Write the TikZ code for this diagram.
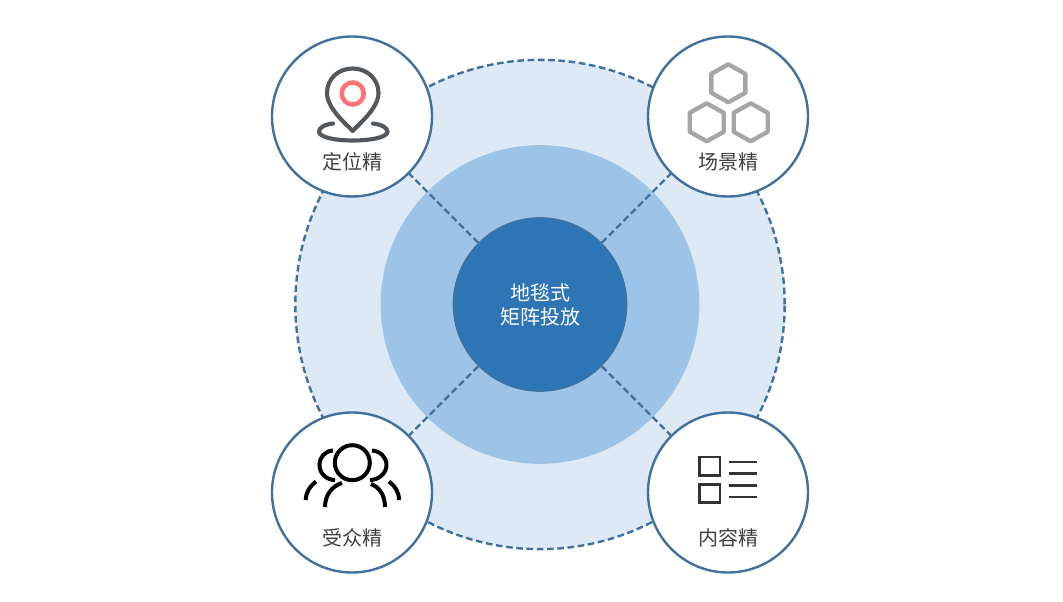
\documentclass[tikz,border=0pt]{standalone}
\usepackage{fontspec}
\newfontfamily\cjk{Noto Sans CJK SC}
\definecolor{ringblue}{HTML}{DEE9F6}
\definecolor{midblue}{HTML}{9DC3E6}
\definecolor{hubblue}{HTML}{2E75B6}
\definecolor{edgeblue}{HTML}{41719C}
\definecolor{labelgrey}{HTML}{404040}
\definecolor{pingrey}{HTML}{54585C}
\definecolor{pinred}{HTML}{FF7175}
\definecolor{hexgrey}{HTML}{A6A6A6}
\definecolor{listgrey}{HTML}{333333}
\tikzset{
	satnode/.style={circle,draw=edgeblue,fill=white,line width=1.8pt,minimum size=120pt,inner sep=0pt},
	hubnode/.style={circle,draw=edgeblue,fill=hubblue,line width=1pt,minimum size=130pt,inner sep=0pt},
	satlabel/.style={text=labelgrey,font=\cjk\fontsize{15}{18}\selectfont},
	link/.style={draw=edgeblue,line width=1.8pt,dash pattern=on 5pt off 2.7pt},
	hexicon/.style={draw=hexgrey,line width=3.3pt,line join=round},
	peopleicon/.style={draw=black,line width=3pt},
	listicon/.style={draw=listgrey,line width=1.8pt}
}
\begin{document}
\begin{tikzpicture}[x=0.75pt,y=-0.75pt]
	\useasboundingbox (0,0) rectangle (1063,602);
	% rings
	\node[circle,link,fill=ringblue,minimum size=367pt,inner sep=0pt] (outer) at (540,304.5) {};
	\node[circle,fill=midblue,minimum size=239pt,inner sep=0pt] (middle) at (540,304.5) {};
	\node[hubnode,align=center,text=white,font=\cjk\fontsize{15}{18}\selectfont] (hub) at (540,304.5) {地毯式\\矩阵投放};
	% satellites
	\node[satnode] (loc) at (352,116.5) {};
	\node[satnode] (scene) at (728,116.5) {};
	\node[satnode] (aud) at (352,492.5) {};
	\node[satnode] (cont) at (728,492.5) {};
	\foreach \sat in {loc,scene,aud,cont} \draw[link] (hub) -- (\sat);
	\node[satlabel] (loclabel) at (352.5,162) {定位精};
	\node[satlabel] (scenelabel) at (728.5,162) {场景精};
	\node[satlabel] (audlabel) at (352.5,538) {受众精};
	\node[satlabel] (contlabel) at (728.5,538) {内容精};
	% pin icon
	\draw[draw=pingrey,line width=3.1pt,line join=round] (352.7,131) .. controls (345,123) and (327,108) .. (327,93) .. controls (327,79) and (338,68.5) .. (352.7,68.5) .. controls (367,68.5) and (378.5,79) .. (378.5,93) .. controls (378.5,108) and (360,123) .. cycle;
	\draw[draw=pingrey,line width=3.1pt,line cap=round] (333,123.5) .. controls (324,124.5) and (319,128) .. (319,131.7) .. controls (319,137) and (334,140.5) .. (353,140.5) .. controls (372,140.5) and (387.5,137) .. (387.5,131.7) .. controls (387.5,128) and (382,124.5) .. (373,123.5);
	\draw[draw=pinred,line width=3.4pt] (352.7,93.5) circle (11);
	% hexagon icon
	\foreach \cx/\cy in {728.3/83.3,706.7/122.3,750.7/122.3}
		\draw[hexicon] (\cx,\cy-19) -- (\cx+17,\cy-9.5) -- (\cx+17,\cy+9.5) -- (\cx,\cy+19) -- (\cx-17,\cy+9.5) -- (\cx-17,\cy-9.5) -- cycle;
	% people icon
	\draw[peopleicon] (352.3,462.7) circle (17.5);
	\draw[peopleicon] (325,507) .. controls (325,495) and (332,486) .. (342,483);
	\draw[peopleicon] (385,507) .. controls (385,495) and (379,487) .. (371,484);
	\draw[peopleicon] (333,450.5) .. controls (325,451) and (319.5,457) .. (319.5,465) .. controls (319.5,473) and (326,480) .. (335,480);
	\draw[peopleicon] (372,450.5) .. controls (380,451) and (386.5,457) .. (386.5,465) .. controls (386.5,473) and (379,480) .. (370,480);
	\draw[peopleicon] (305.7,500) .. controls (306,492) and (310,486) .. (316,481.5);
	\draw[peopleicon] (399,500) .. controls (399,492) and (395,486) .. (389,481.5);
	% list icon
	\draw[listicon] (699.5,457) rectangle (720,475.5);
	\draw[listicon] (699.5,484.5) rectangle (720,502.5);
	\foreach \ly in {462,473.3,485.3,496.7} \draw[listicon] (729,\ly) -- (757,\ly);
\end{tikzpicture}
\end{document}
